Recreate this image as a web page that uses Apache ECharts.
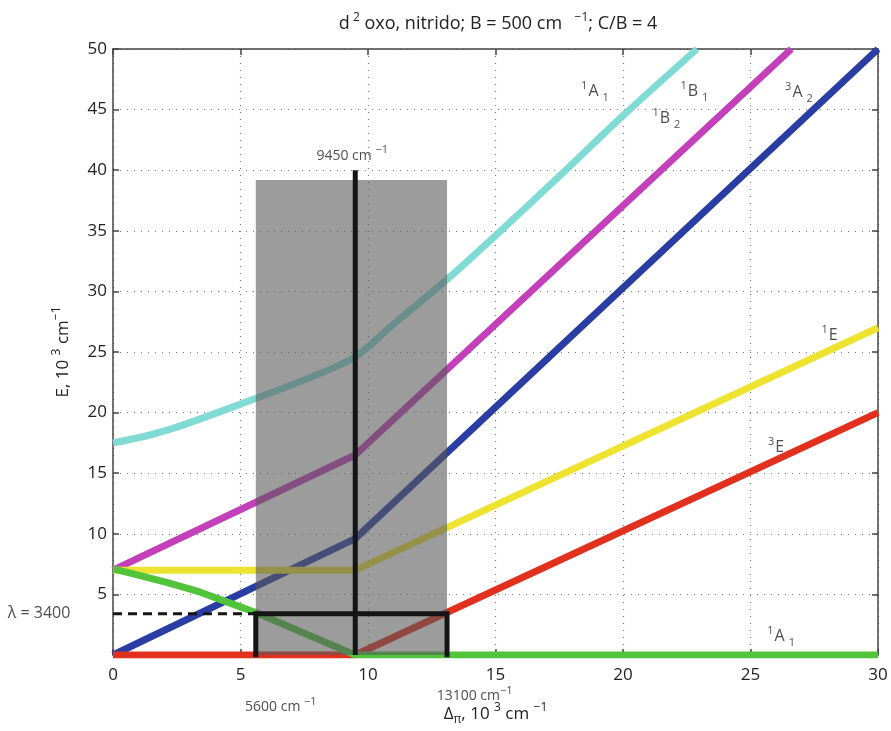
<!DOCTYPE html>
<html>
<head>
<meta charset="utf-8">
<script src="https://cdn.jsdelivr.net/npm/echarts@6/dist/echarts.min.js"></script>
<style>
  html, body { margin: 0; padding: 0; background: #fff; }
  #chart { width: 891px; height: 731px; }
</style>
</head>
<body>
<div id="chart"></div>
<script>
// energy curves, [Δπ, E] in 10^3 cm^-1
const cyan1A1 = [[0, 17.5], [1.25, 18.05], [2.5, 18.8], [5, 20.7], [7.5, 22.7], [9.5, 24.6], [11, 27.3], [13, 30.8], [15, 34.6], [17.5, 39.5], [20, 44.5], [22.9, 50]];
const magenta1B = [[0, 7], [9.5, 16.5], [26.6, 50]];
const blue3A2 = [[0, 0], [9.5, 9.6], [30, 50]];
const yellow1E = [[0, 7], [9.5, 7], [30, 27]];
const red3E = [[0, 0], [9.5, 0], [30, 20]];
const green1A1 = [[0, 7.1], [0.8, 6.7], [2.1, 6.0], [3.4, 5.2], [4.7, 4.2], [5.6, 3.5], [9.5, 0], [30, 0]];

// marks
const shadeBox = [[5.6, 39.2], [13.1, 39.2]];
const vertLine = [[9.5, 0], [9.5, 40]];
const lambdaBox = [[5.6, 0], [5.6, 3.4], [13.1, 3.4], [13.1, 0]];
const lambdaDash = [[0, 3.4], [5.6, 3.4]];

// text annotations: [x, y]
const notePos = [[18.9, 46.5], [22.8, 46.5], [21.7, 44.3], [26.9, 46.4], [28.1, 26.4], [26.0, 17.1], [26.2, 1.5],
  [9.4, 41.2], [6.6, -4.3], [14.2, -3.4], [-2.9, 3.4]];
const noteText = [
  '{sup|1}{m|A}{sub|1}', '{sup|1}{m|B}{sub|1}', '{sup|1}{m|B}{sub|2}', '{sup|3}{m|A}{sub|2}',
  '{sup|1}{m|E}', '{sup|3}{m|E}', '{sup|1}{m|A}{sub|1}',
  '{n|9450 cm }{sup|−1}', '{n|5600 cm }{sup|−1}', '{n|13100 cm}{sup|−1}', '{m|λ = 3400}'
];

const xTicks = { min: 0, max: 30, interval: 5 };
const yTicks = { min: 0, max: 50, interval: 5 };

const FONT = 'Open Sans';
const AXIS_COLOR = '#444';

const chart = echarts.init(document.getElementById('chart'));

function curve(data, color, smooth) {
  return {
    type: 'line', data, z: 2, symbol: 'none', silent: true,
    smooth: smooth || false,
    lineStyle: { color, width: 7, cap: 'butt' }
  };
}

function axisBase(show) {
  return {
    type: 'value',
    axisLine: { show: true, onZero: false, lineStyle: { color: AXIS_COLOR, width: 1.5 } },
    axisTick: { show: true, inside: true, length: 6, lineStyle: { color: AXIS_COLOR, width: 1.5 } },
    axisLabel: { show, fontFamily: FONT, fontSize: 17, color: '#222' }
  };
}

chart.setOption({
  animation: false,
  title: {
    left: 493, top: 7, textAlign: 'center',
    text: '{t|d}{sup| 2}{t| oxo, nitrido; B = 500 cm}{sup|    −1}{t|; C/B = 4}',
    textStyle: {
      fontWeight: 'normal',
      rich: {
        t: { fontFamily: FONT, fontSize: 18, fontWeight: 'normal', color: '#222' },
        sup: { fontFamily: FONT, fontSize: 12, fontWeight: 'normal', color: '#222', padding: [0, 0, 12, 0] }
      }
    }
  },
  grid: { left: 113, right: 13, top: 49, bottom: 75 },
  xAxis: [
    Object.assign(axisBase(true), xTicks, {
      position: 'bottom',
      axisLabel: { fontFamily: FONT, fontSize: 17, color: '#222', margin: 12 },
      splitLine: { show: true, lineStyle: { type: [1, 6], color: '#777', width: 1.2 } },
      name: '{m|Δ}{sub|π}{m|, 10 }{sup|3}{m| cm }{sup|−1}',
      nameLocation: 'middle', nameGap: 47,
      nameTextStyle: {
        rich: {
          m: { fontFamily: FONT, fontSize: 17, color: '#222' },
          sup: { fontFamily: FONT, fontSize: 12, color: '#222', padding: [0, 0, 12, 0] },
          sub: { fontFamily: FONT, fontSize: 12, color: '#222', padding: [12, 0, 0, 0] }
        }
      }
    }),
    Object.assign(axisBase(false), xTicks, { position: 'top', splitLine: { show: false } })
  ],
  yAxis: [
    Object.assign(axisBase(true), yTicks, {
      position: 'left',
      axisLabel: {
        fontFamily: FONT, fontSize: 17, color: '#222', margin: 6,
        formatter: v => (v === 0 ? '' : String(v))
      },
      splitLine: { show: true, lineStyle: { type: [1, 6], color: '#777', width: 1.2 } },
      name: '{m|E, 10 }{sup|3}{m| cm}{sup|−1}',
      nameLocation: 'middle', nameRotate: 90, nameGap: 38,
      nameTextStyle: {
        rich: {
          m: { fontFamily: FONT, fontSize: 17, color: '#222' },
          sup: { fontFamily: FONT, fontSize: 12, color: '#222', padding: [0, 0, 12, 0] }
        }
      }
    }),
    Object.assign(axisBase(false), yTicks, { position: 'right', splitLine: { show: false } })
  ],
  series: [
    curve(cyan1A1, '#7fdbd4', 0.3),
    curve(magenta1B, '#c43fba'),
    curve(blue3A2, '#2a3da3'),
    curve(yellow1E, '#efe331'),
    curve(red3E, '#e2301f'),
    curve(green1A1, '#52c43c'),
    {
      type: 'line', data: shadeBox, z: 3, symbol: 'none', silent: true,
      lineStyle: { width: 0, opacity: 0 },
      areaStyle: { color: 'rgba(90,90,90,0.6)', opacity: 1 }
    },
    {
      type: 'line', data: vertLine, z: 4, symbol: 'none', silent: true,
      lineStyle: { color: '#151515', width: 5, cap: 'butt' }
    },
    {
      type: 'line', data: lambdaBox, z: 4, symbol: 'none', silent: true,
      lineStyle: { color: '#151515', width: 5, cap: 'square', join: 'miter' }
    },
    {
      type: 'line', data: lambdaDash, z: 4, symbol: 'none', silent: true,
      lineStyle: { color: '#151515', width: 3, type: [9, 6] }
    },
    {
      type: 'scatter', data: notePos, symbolSize: 0, z: 5, silent: true, clip: false,
      label: {
        show: true, position: 'inside',
        formatter: p => noteText[p.dataIndex],
        rich: {
          m: { fontFamily: FONT, fontSize: 16, color: '#222' },
          n: { fontFamily: FONT, fontSize: 14, color: '#222' },
          sup: { fontFamily: FONT, fontSize: 11, color: '#222', padding: [0, 1, 11, 0] },
          sub: { fontFamily: FONT, fontSize: 11, color: '#222', padding: [13, 0, 0, 4] }
        }
      }
    }
  ]
});
</script>
</body>
</html>
